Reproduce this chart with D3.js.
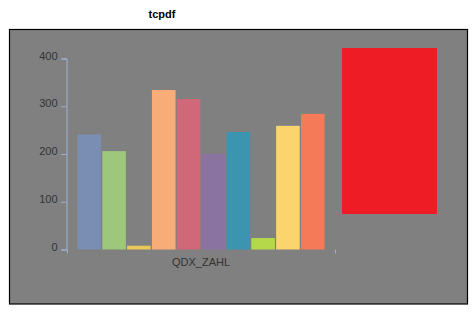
<!DOCTYPE html>
<html>
<head>
  <script src="https://d3js.org/d3.v7.min.js"></script>
  <style>
    body { margin: 0; background: #fff; }
    text { font-family: "Liberation Sans", Arial, sans-serif; }
  </style>
</head>
<body>
  <script>
    // data
    const series = ["s1", "s2", "s3", "s4", "s5", "s6", "s7", "s8", "s9", "s10"];
    const values = [241, 206, 8, 334, 315, 200, 246, 24, 259, 284];
    const colors = ["#7a8eb4", "#9dc77b", "#e9c75b", "#f8ad79", "#d0687a",
                    "#8a73a0", "#3b95b1", "#b4d84a", "#fcd46d", "#f47a58"];
    const yTicks = [0, 100, 200, 300, 400];
    const category = "QDX_ZAHL";
    const title = "tcpdf";

    const width = 475;
    const height = 318;

    const svg = d3.select("body")
      .append("svg")
      .attr("width", width)
      .attr("height", height);

    // panel
    svg.append("rect")
      .attr("x", 9.5)
      .attr("y", 29.5)
      .attr("width", 458)
      .attr("height", 274.5)
      .attr("fill", "#808080")
      .attr("stroke", "#000")
      .attr("stroke-width", 1.2);

    svg.append("text")
      .attr("x", 162)
      .attr("y", 18)
      .attr("text-anchor", "middle")
      .attr("font-weight", "bold")
      .attr("font-size", "11px")
      .attr("fill", "#000")
      .text(title);

    const x = d3.scaleBand()
      .domain(series)
      .range([67, 335])
      .paddingInner(0.05)
      .paddingOuter(0.42);

    const y = d3.scaleLinear()
      .domain([0, 400])
      .range([249.5, 58.5]);

    const axisColor = "#9fb1d6";

    const yAxis = svg.append("g")
      .attr("transform", "translate(66.5,0)")
      .call(d3.axisLeft(y).tickValues(yTicks).tickSize(5).tickSizeOuter(5).tickPadding(4));
    yAxis.selectAll("path, line").attr("stroke", axisColor);
    yAxis.selectAll("text")
      .attr("fill", "#333")
      .attr("font-size", "11px")
      .attr("dy", "0.05em")
      .style("font-family", "'Liberation Sans', Arial, sans-serif");

    // x axis: only the end marks show
    svg.append("g")
      .selectAll("line")
      .data(x.range())
      .join("line")
      .attr("x1", d => d + 0.5)
      .attr("x2", d => d + 0.5)
      .attr("y1", 249.5)
      .attr("y2", 253.5)
      .attr("stroke", axisColor);

    svg.append("g")
      .selectAll("rect")
      .data(values)
      .join("rect")
      .attr("x", (d, i) => x(series[i]))
      .attr("y", d => y(d))
      .attr("width", x.bandwidth())
      .attr("height", d => y(0) - y(d))
      .attr("fill", (d, i) => colors[i]);

    svg.append("text")
      .attr("x", (x.range()[0] + x.range()[1]) / 2)
      .attr("y", 266)
      .attr("text-anchor", "middle")
      .attr("font-size", "11px")
      .attr("fill", "#333")
      .text(category);

    // legend box (drawn solid red in the original)
    svg.append("rect")
      .attr("x", 342)
      .attr("y", 48)
      .attr("width", 95)
      .attr("height", 166)
      .attr("fill", "#ee1d25");
  </script>
</body>
</html>
